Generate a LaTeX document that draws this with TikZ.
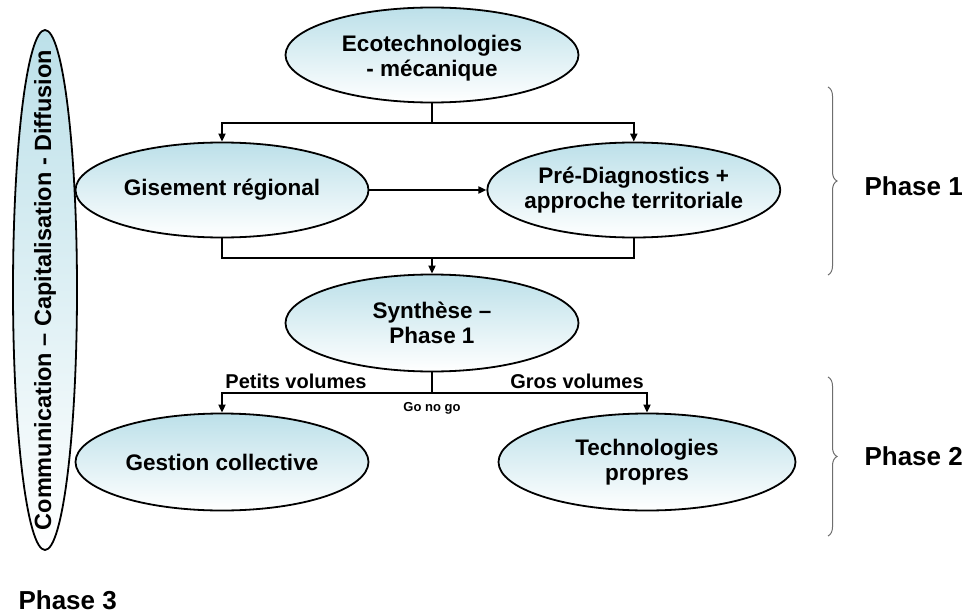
\documentclass[tikz,border=0pt]{standalone}
\usepackage{fontspec}
\setmainfont{Liberation Sans}
\usetikzlibrary{positioning,shapes.geometric,arrows.meta,decorations.pathreplacing}
\definecolor{bubbletop}{RGB}{188,224,233}
\definecolor{bracegray}{RGB}{110,110,110}
\tikzset{bubble/.style={ellipse,draw,line width=1.8pt,top color=bubbletop,bottom color=white,minimum width=293pt,minimum height=95pt,inner sep=0pt},
bubble text/.style={align=center,font=\bfseries\fontsize{22.5}{25}\selectfont},
link/.style={line width=1.8pt},
flow/.style={link,-{Triangle[length=8pt,width=7pt]}},
phase brace/.style={draw=bracegray,line width=1pt,decorate,decoration={brace,amplitude=9pt}},
phase label/.style={anchor=west,font=\bfseries\fontsize{26}{30}\selectfont},
branch label/.style={font=\bfseries\fontsize{20}{24}\selectfont},
}

\begin{document}
\begin{tikzpicture}[x=1pt,y=1pt]
		\useasboundingbox (0,0) rectangle (968,-615);
		% side bubble
		\node[bubble,minimum width=64pt,minimum height=520pt,label={[rotate=90,font=\bfseries\fontsize{23.5}{26}\selectfont]center:Communication – Capitalisation - Diffusion}] (comm) at (45,-290) {};
		
		\node[bubble,label={[bubble text,yshift=-3pt]center:Ecotechnologies\\- mécanique}] (eco) at (432,-55) {};
		\node[bubble,label={[bubble text]center:Gisement régional}] (gis) at (222,-190) {};
		\node[bubble,label={[bubble text]center:Pré-Diagnostics +\\approche territoriale}] (pre) [right=117pt of gis] {};
		\node[bubble,minimum height=97pt,label={[bubble text]center:Synthèse –\\Phase 1}] (syn) at (432,-323) {};
		\node[bubble,minimum height=97pt,label={[bubble text]center:Gestion collective}] (gest) at (222,-462) {};
		\node[bubble,minimum width=297pt,minimum height=97pt,label={[bubble text]center:Technologies\\propres}] (tech) at (647,-462) {};
		
		\coordinate (split1) at (eco.south |- 0,-123);
		\coordinate (merge) at (syn.north |- 0,-258);
		\coordinate (split2) at (syn.south |- 0,-393);
		
		\draw[link] (eco.south) -- (split1);
		\draw[flow] (split1) -| (gis.north);
		\draw[flow] (split1) -| (pre.north);
		\draw[flow] (gis) -- (pre);
		\draw[link] (gis.south) |- (merge) -| (pre.south);
		\draw[flow] (merge) -- (syn.north);
		\draw[link] (syn.south) -- (split2);
		\draw[flow] (split2) -| (gest.north);
		\draw[flow] (split2) -| (tech.north);
		
		\node[branch label] (petits) at (296,-381) {Petits volumes};
		\node[branch label] (gros) at (577,-381) {Gros volumes};
		\node[font=\bfseries\fontsize{13}{15}\selectfont] (gonogo) at (432,-408) {Go no go};
		
		% phases
		\coordinate (b1top) at (828,-87);
		\coordinate (b1bot) at (828,-275);
		\coordinate (b2top) at (828,-377);
		\coordinate (b2bot) at (828,-536);
		\draw[phase brace] (b1top) -- (b1bot);
		\draw[phase brace] (b2top) -- (b2bot);
		\node[phase label] (ph1) at (861,-186) {Phase 1};
		\node[phase label] (ph2) at (861,-456) {Phase 2};
		\node[phase label] (ph3) at (15,-600) {Phase 3};
	\end{tikzpicture}
\end{document}
